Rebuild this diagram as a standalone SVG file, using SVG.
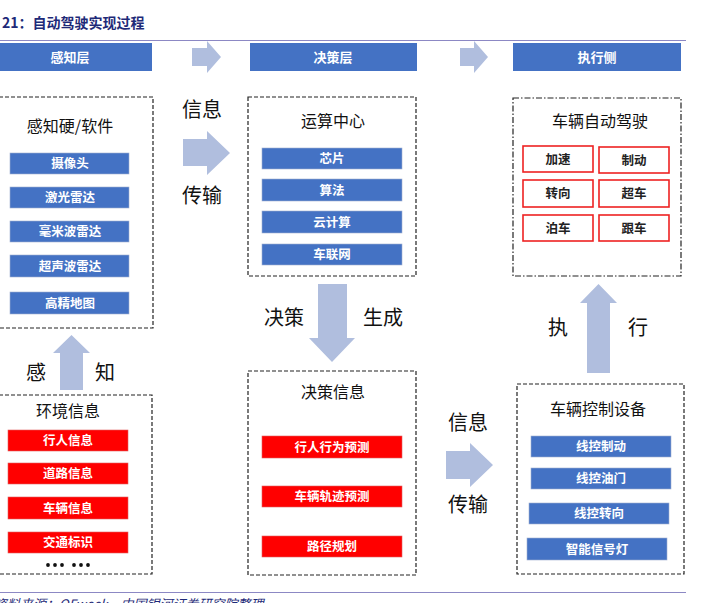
<svg xmlns="http://www.w3.org/2000/svg" width="710" height="603" viewBox="0 0 710 603">
<style>
text{font-family:"Noto Sans CJK SC","Liberation Serif",sans-serif;text-anchor:middle}
.hdr{fill:#4472C4}
.hdt{fill:#fff;font-size:13px;font-weight:bold}
.box{fill:#fff;stroke:#222;stroke-width:1.2;stroke-dasharray:4,2}
.dd{fill:#fff;stroke:#222;stroke-width:1.2;stroke-dasharray:6,2,1.5,2}
.ttl{fill:#111;font-size:16px}
.bl{fill:#4472C4;stroke:#a0b0d0;stroke-width:0.6}
.rd{fill:#FF0000;stroke:#e06060;stroke-width:0.6}
.it{fill:#fff;font-size:12.5px;font-weight:bold}
.ro{fill:#fff;stroke:#ee2222;stroke-width:1.6}
.rt{fill:#222;font-size:12.5px;font-weight:bold}
.lbl{fill:#111;font-size:20px}
.arr{fill:#B0BEDE}
.rule{stroke:#8c88c4;stroke-width:1.2}
</style>
<g id="title">
<text x="2" y="28" style="text-anchor:start;font-size:14px;font-weight:bold;fill:#1e2a78">21：自动驾驶实现过程</text>
<line class="rule" x1="0" y1="40.5" x2="686" y2="40.5"/>
</g>
<g id="header-perception"><rect class="hdr" x="0" y="43" width="152" height="28"/><text class="hdt" x="70" y="62">感知层</text></g>
<g id="header-decision"><rect class="hdr" x="250" y="43" width="167" height="28"/><text class="hdt" x="333" y="62">决策层</text></g>
<g id="header-execution"><rect class="hdr" x="513" y="43" width="168" height="28"/><text class="hdt" x="597" y="62">执行侧</text></g>

<g id="sensors">
<rect class="box" x="-1" y="97" width="154" height="231"/>
<text class="ttl" x="70" y="132">感知硬/软件</text>
<rect class="bl" x="10" y="153" width="119" height="21"/><text class="it" x="70" y="168">摄像头</text>
<rect class="bl" x="10" y="187" width="119" height="21"/><text class="it" x="70" y="202">激光雷达</text>
<rect class="bl" x="10" y="221" width="119" height="21"/><text class="it" x="70" y="236">毫米波雷达</text>
<rect class="bl" x="10" y="255" width="119" height="22"/><text class="it" x="70" y="271">超声波雷达</text>
<rect class="bl" x="10" y="292" width="119" height="22"/><text class="it" x="70" y="308">高精地图</text>
</g>

<g id="computing">
<rect class="box" x="248" y="97" width="168" height="179"/>
<text class="ttl" x="333" y="127">运算中心</text>
<rect class="bl" x="262" y="148" width="140" height="21"/><text class="it" x="332" y="163">芯片</text>
<rect class="bl" x="262" y="179" width="140" height="22"/><text class="it" x="332" y="195">算法</text>
<rect class="bl" x="262" y="211" width="140" height="22"/><text class="it" x="332" y="227">云计算</text>
<rect class="bl" x="262" y="244" width="140" height="21"/><text class="it" x="332" y="259">车联网</text>
</g>

<g id="vehicle-driving">
<rect class="dd" x="513" y="98" width="168" height="178"/>
<text class="ttl" x="600" y="127">车辆自动驾驶</text>
<rect class="ro" x="523" y="146" width="70" height="26"/><text class="rt" x="558" y="164">加速</text>
<rect class="ro" x="599" y="147" width="70" height="26"/><text class="rt" x="634" y="165">制动</text>
<rect class="ro" x="523" y="180" width="70" height="27"/><text class="rt" x="558" y="198">转向</text>
<rect class="ro" x="599" y="180" width="70" height="27"/><text class="rt" x="634" y="198">超车</text>
<rect class="ro" x="523" y="215" width="70" height="26"/><text class="rt" x="558" y="233">泊车</text>
<rect class="ro" x="599" y="215" width="70" height="26"/><text class="rt" x="634" y="233">跟车</text>
</g>

<g id="environment">
<rect class="box" x="-1" y="395" width="153" height="179"/>
<text class="ttl" x="68" y="417">环境信息</text>
<rect class="rd" x="8" y="430" width="120" height="21"/><text class="it" x="68" y="445">行人信息</text>
<rect class="rd" x="8" y="463" width="120" height="21"/><text class="it" x="68" y="478">道路信息</text>
<rect class="rd" x="8" y="497" width="120" height="22"/><text class="it" x="68" y="513">车辆信息</text>
<rect class="rd" x="8" y="532" width="120" height="21"/><text class="it" x="68" y="547">交通标识</text>
<g fill="#111"><circle cx="48" cy="565" r="1.9"/><circle cx="55" cy="565" r="1.9"/><circle cx="62" cy="565" r="1.9"/><circle cx="74" cy="565" r="1.9"/><circle cx="81" cy="565" r="1.9"/><circle cx="88" cy="565" r="1.9"/></g>
</g>

<g id="decision-info">
<rect class="box" x="248" y="371" width="168" height="204"/>
<text class="ttl" x="333" y="398">决策信息</text>
<rect class="rd" x="262" y="436" width="140" height="22"/><text class="it" x="332" y="452">行人行为预测</text>
<rect class="rd" x="262" y="486" width="140" height="21"/><text class="it" x="332" y="501">车辆轨迹预测</text>
<rect class="rd" x="262" y="536" width="140" height="21"/><text class="it" x="332" y="551">路径规划</text>
</g>

<g id="control-devices">
<rect class="box" x="517" y="384" width="167" height="190"/>
<text class="ttl" x="598" y="415">车辆控制设备</text>
<rect class="bl" x="531" y="436" width="140" height="21"/><text class="it" x="601" y="451">线控制动</text>
<rect class="bl" x="531" y="468" width="140" height="21"/><text class="it" x="601" y="483">线控油门</text>
<rect class="bl" x="529" y="503" width="140" height="21"/><text class="it" x="599" y="518">线控转向</text>
<rect class="bl" x="527" y="538" width="140" height="22"/><text class="it" x="597" y="554">智能信号灯</text>
</g>

<g id="connectors">
<polygon class="arr" points="192,48 207,48 207,41 221,57 207,73 207,66 192,66"/>
<polygon class="arr" points="460,48 474,48 474,41 488,57 474,73 474,66 460,66"/>
<polygon class="arr" points="183,139 207,139 207,131 230,153 207,175 207,166 183,166"/>
<polygon class="arr" points="318,284 347,284 347,338 355,338 332,362 309,338 318,338"/>
<polygon class="arr" points="60,390 60,353 53,353 71.5,335 90,353 83,353 83,390"/>
<polygon class="arr" points="587,373 587,303 580,303 598.5,284 617,303 610,303 610,373"/>
<polygon class="arr" points="446,451 470,451 470,443 493,465 470,487 470,479 446,479"/>
<text class="lbl" x="202" y="117">信息</text>
<text class="lbl" x="202" y="203">传输</text>
<text class="lbl" x="284" y="325">决策</text>
<text class="lbl" x="383" y="325">生成</text>
<text class="lbl" x="36" y="380">感</text>
<text class="lbl" x="105" y="380">知</text>
<text class="lbl" x="558" y="335">执</text>
<text class="lbl" x="638" y="335">行</text>
<text class="lbl" x="468" y="430">信息</text>
<text class="lbl" x="468" y="512">传输</text>
</g>

<g id="footer">
<line class="rule" x1="0" y1="592.5" x2="686" y2="592.5"/>
<text x="-6" y="609" style="text-anchor:start;font-size:13px;font-style:italic;fill:#1e2a78">资料来源：OFweek，中国银河证券研究院整理</text>
</g>
</svg>
